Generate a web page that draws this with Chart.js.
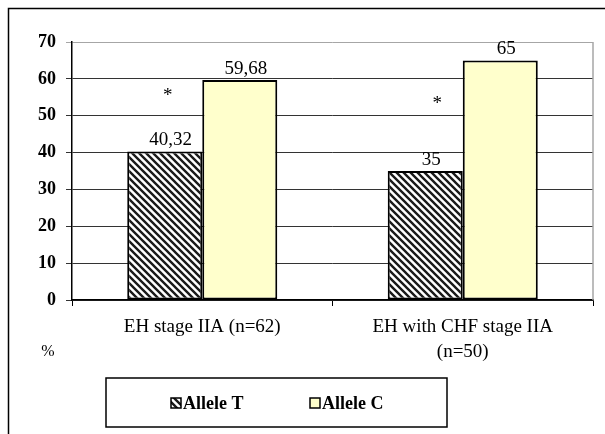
<!DOCTYPE html>
<html>
<head>
<meta charset="utf-8">
<script src="https://cdn.jsdelivr.net/npm/chart.js@4/dist/chart.umd.min.js"></script>
<style>
    html, body { margin: 0; padding: 0; background: #fff; }
    #wrap { width: 605px; height: 434px; position: relative; }
</style>
</head>
<body>
<div id="wrap"><canvas id="alleleChart"></canvas></div>
<script>

/*==================================================
DATA
==================================================*/

const categories = [
    ["EH stage IIA (n=62)"],
    ["EH with CHF stage IIA", "(n=50)"]
];

const seriesNames = ["Allele T", "Allele C"];

const alleleT = [40.32, 35];

const alleleC = [59.68, 65];

// asterisk marks (value level where they sit)
const asteriskLevel = [56.5, 54.3];

const yMin = 0;
const yMax = 70;
const yStep = 10;

const FONT = "'Liberation Serif', 'Times New Roman', serif";

/*==================================================
HATCH PATTERN
==================================================*/

function makeHatch() {

    const size = 7;
    const c = document.createElement("canvas");
    c.width = size;
    c.height = size;
    const g = c.getContext("2d");

    g.fillStyle = "#ffffff";
    g.fillRect(0, 0, size, size);

    g.strokeStyle = "#1a1a1a";
    g.lineWidth = 2.4;
    g.beginPath();
    g.moveTo(-1, -1); g.lineTo(size + 1, size + 1);
    g.moveTo(-1, size - 1); g.lineTo(1, size + 1);
    g.moveTo(size - 1, -1); g.lineTo(size + 1, 1);
    g.stroke();

    return g.createPattern(c, "repeat");

}

const hatch = makeHatch();

function fmt(v) {
    return String(v).replace(".", ",");
}

/*==================================================
EXTRA DRAWING (frame, labels, legend)
==================================================*/

const extras = {

    id: "extras",

    beforeDraw(chart) {

        const ctx = chart.ctx;
        ctx.save();
        ctx.fillStyle = "#fff";
        ctx.fillRect(0, 0, chart.width, chart.height);
        ctx.strokeStyle = "#000";
        ctx.lineWidth = 1.5;
        ctx.strokeRect(8.5, 8.5, 800, 600);
        ctx.restore();

    },

    afterDatasetsDraw(chart) {

        const ctx = chart.ctx;
        const area = chart.chartArea;
        const yScale = chart.scales.y;

        ctx.save();

        // right border of plot
        ctx.strokeStyle = "#a6a6a6";
        ctx.lineWidth = 1.5;
        ctx.beginPath();
        ctx.moveTo(area.right, area.top);
        ctx.lineTo(area.right, area.bottom);
        ctx.stroke();

        // value labels
        ctx.fillStyle = "#000";
        ctx.font = "19px " + FONT;
        ctx.textAlign = "center";
        ctx.textBaseline = "alphabetic";

        chart.data.datasets.forEach((ds, i) => {

            chart.getDatasetMeta(i).data.forEach((bar, j) => {

                ctx.fillText(fmt(ds.data[j]), bar.x + 6, bar.y - 6);

            });

        });

        // asterisks
        const tMeta = chart.getDatasetMeta(0);
        ctx.font = "19px " + FONT;
        ctx.textBaseline = "middle";

        asteriskLevel.forEach((lvl, j) => {

            ctx.fillText("*", tMeta.data[j].x + 3 + j * 9, yScale.getPixelForValue(lvl) + 4);

        });

        // percent sign
        ctx.font = "16px " + FONT;
        ctx.fillText("%", 48, 352);

        // legend box
        ctx.strokeStyle = "#000";
        ctx.lineWidth = 1.5;
        ctx.strokeRect(106, 378, 341, 49);

        const items = [
            { x: 171, fill: hatch, label: seriesNames[0] },
            { x: 310, fill: "#ffffcc", label: seriesNames[1] }
        ];

        ctx.font = "bold 18px " + FONT;
        ctx.textAlign = "left";
        ctx.textBaseline = "middle";

        items.forEach(it => {

            ctx.fillStyle = it.fill;
            ctx.fillRect(it.x, 398, 10, 10);
            ctx.strokeStyle = "#000";
            ctx.lineWidth = 1.5;
            ctx.strokeRect(it.x, 398, 10, 10);

            ctx.fillStyle = "#000";
            ctx.fillText(it.label, it.x + 12, 404);

        });

        ctx.restore();

    }

};

/*==================================================
CHART
==================================================*/

const ctx = document.getElementById("alleleChart");

new Chart(ctx, {

    type: "bar",

    data: {

        labels: categories,

        datasets: [

            {
                label: seriesNames[0],
                data: alleleT,
                backgroundColor: hatch,
                borderColor: "#000",
                borderWidth: 2,
                borderSkipped: false
            },

            {
                label: seriesNames[1],
                data: alleleC,
                backgroundColor: "#ffffcc",
                borderColor: "#000",
                borderWidth: 2,
                borderSkipped: false
            }

        ]

    },

    options: {

        responsive: true,

        maintainAspectRatio: false,

        animation: false,

        layout: {
            padding: { left: 0, top: 42, right: 12, bottom: 0 }
        },

        datasets: {
            bar: {
                barPercentage: 1,
                categoryPercentage: 0.576
            }
        },

        plugins: {
            legend: { display: false },
            tooltip: { enabled: false }
        },

        scales: {

            x: {

                afterFit(scale) { scale.height = 134; },

                grid: {
                    drawOnChartArea: false,
                    tickLength: 6,
                    color: "#000",
                    lineWidth: 1
                },

                border: { color: "#000", width: 1.5 },

                ticks: {
                    color: "#000",
                    padding: 9,
                    maxRotation: 0,
                    font: { family: FONT, size: 19, lineHeight: 1.3 }
                }

            },

            y: {

                min: yMin,

                max: yMax,

                afterFit(scale) { scale.width = 72; },

                grid: {
                    color: ctx => ctx.tick && ctx.tick.value === yMax ? "#a6a6a6" : "#333",
                    lineWidth: 1,
                    tickLength: 6
                },

                border: { color: "#000", width: 1.5 },

                ticks: {
                    stepSize: yStep,
                    color: "#000",
                    padding: 10,
                    font: { family: FONT, size: 18, weight: "bold" }
                }

            }

        }

    },

    plugins: [extras]

});

</script>
</body>
</html>
